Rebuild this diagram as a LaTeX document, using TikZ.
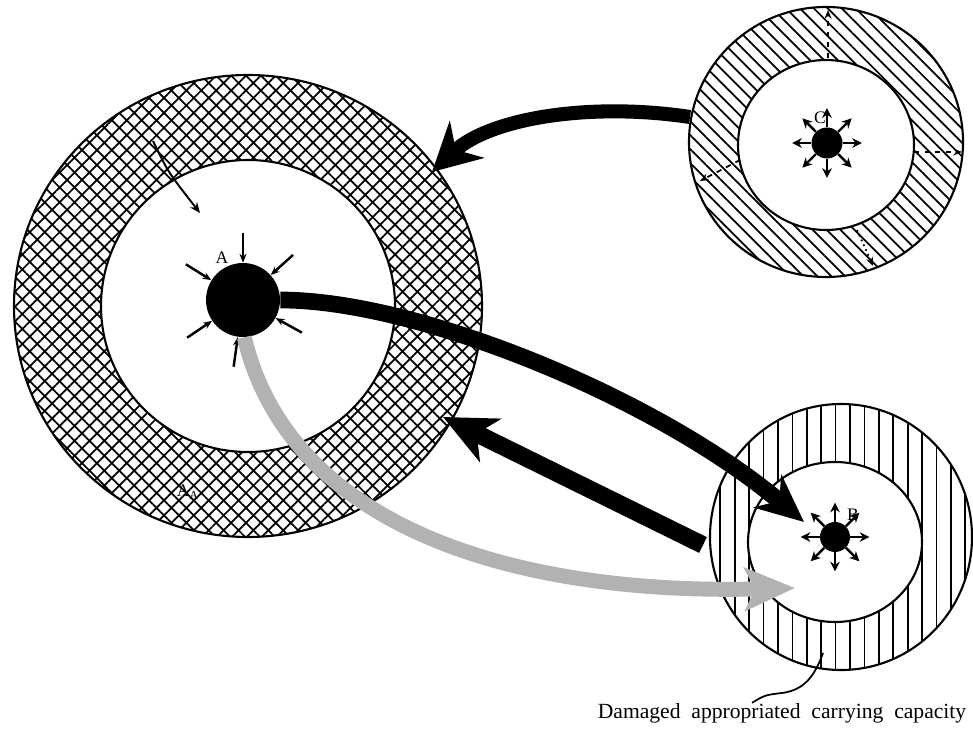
\documentclass[tikz,border=0pt]{standalone}
\usepackage{fontspec}
\setmainfont{Liberation Serif}
\usepackage{tikz}
\usetikzlibrary{arrows.meta,patterns.meta}
\tikzstyle{core} = [circle, fill=black, inner sep=0pt]
\tikzstyle{ringline} = [draw=black, line width=1.2pt]
\tikzstyle{letter} = [font=\fontsize{10}{10}\selectfont, inner sep=0pt]
\tikzstyle{spokein} = [line width=1.4pt, -{Stealth[length=5pt, width=4pt]}]
\tikzstyle{spokeout} = [line width=1.4pt, -{Stealth[length=5.5pt, width=5.5pt]}]
\tikzstyle{flow} = [draw=black, line width=8.5pt]
\tikzstyle{ringarrow} = [line width=1pt, dashed, -{Stealth[length=5pt, width=4pt]}]

\begin{document}
\begin{tikzpicture}[x=0.02cm, y=-0.02cm]
                \useasboundingbox (0,0) rectangle (973,739);

                \fill [pattern={Hatch[angle=45, distance=6pt, line width=1pt]}, even odd rule]
                    (248,306) circle [x radius=234, y radius=231]
                    (248,306) circle [x radius=147, y radius=146];
                \draw [ringline] (248,306) circle [x radius=234, y radius=231];
                \draw [ringline] (248,306) circle [x radius=147, y radius=146];

                \fill [pattern={Lines[angle=-45, distance=5.6pt, line width=1pt]}, even odd rule]
                    (826,142) circle [x radius=137, y radius=135]
                    (826,145) circle [x radius=88, y radius=85];
                \draw [ringline] (826,142) circle [x radius=137, y radius=135];
                \draw [ringline] (826,145) circle [x radius=88, y radius=85];

                \fill [pattern={Lines[angle=90, distance=8.2pt, line width=1pt]}, even odd rule]
                    (841,537) circle [x radius=131, y radius=133]
                    (835,542) circle [x radius=87, y radius=80];
                \draw [ringline] (841,537) circle [x radius=131, y radius=133];
                \draw [ringline] (835,542) circle [x radius=87, y radius=80];

                \node [core, minimum size=1.48cm] (A) at (243,300) {};
                \node [core, minimum size=0.62cm] (C) at (827,143) {};
                \node [core, minimum size=0.6cm] (B) at (835,537) {};

                \foreach \a in {90,42,148,214,331,262}
                    \draw [spokein] ([shift={(\a:0.6cm)}]A.\a) -- (A.\a);
                \foreach \a in {0,45,...,315} {
                    \draw [spokeout] (C.\a) -- ++(\a:0.38cm);
                    \draw [spokeout] (B.\a) -- ++(\a:0.38cm);
                }

                \node [letter] (labelA) at (222,258) {A};
                \node [letter] (labelC) at (820,118) {C};
                \node [letter] (labelB) at (853,515) {B};
                \node [letter] (labelAA) at (188,492) {A\textsubscript{A}};

                \coordinate (ctop) at (828,58);
                \coordinate (ctopout) at (828,10);
                \coordinate (cright) at (914,152);
                \coordinate (crightout) at (962,152);
                \coordinate (cleft) at (740,160);
                \coordinate (cleftout) at (700,181);
                \coordinate (cbottom) at (857,230);
                \coordinate (cbottomout) at (873,266);
                \draw [ringarrow] (ctop) -- (ctopout);
                \draw [ringarrow] (cright) -- (crightout);
                \draw [ringarrow] (cleft) -- (cleftout);
                \draw [ringarrow, dotted] (cbottom) -- (cbottomout);

                \coordinate (fromC) at (690,117);
                \coordinate (intoA) at (432,172);
                \coordinate (fromB) at (703,545);
                \coordinate (intoAlow) at (443,417);
                \coordinate (intoB) at (804,522);
                \coordinate (intoBlow) at (795,588);
                \coordinate (ringtail) at (153,141);
                \coordinate (ringtip) at (200,213);

                \draw [flow, line width=8pt, -{Stealth[length=0.95cm, width=1cm, inset=0.3cm]}]
                    (fromC) .. controls (590,102) and (490,118) .. (intoA);
                \draw [draw=gray!60, line width=8.5pt, -{Stealth[length=1cm, width=0.85cm, inset=0.2cm]}]
                    (A.272) .. controls (290,530) and (520,595) .. (intoBlow);
                \draw [flow, line width=10pt, -{Stealth[length=1.05cm, width=0.95cm, inset=0.3cm]}]
                    (fromB) -- (intoAlow);
                \draw [flow, line width=9.5pt, -{Stealth[length=0.95cm, width=0.85cm, inset=0.3cm]}]
                    (A.east) .. controls (420,300) and (660,400) .. (intoB);
                \draw [line width=1.1pt, -{Stealth[length=6pt, width=5pt]}]
                    (ringtail) .. controls (168,172) .. (ringtip);

                \node [font=\fontsize{12.3}{13}\selectfont, inner sep=0pt] (damaged) at (782,713)
                    {Damaged \ appropriated \ carrying \ capacity};
                \coordinate (damagedring) at (823,653);
                \draw [line width=1pt] (damagedring) .. controls (815,675) and (805,690) .. (782,693)
                    .. controls (765,695) .. ([xshift=-0.6cm]damaged.north);
            \end{tikzpicture}
\end{document}
